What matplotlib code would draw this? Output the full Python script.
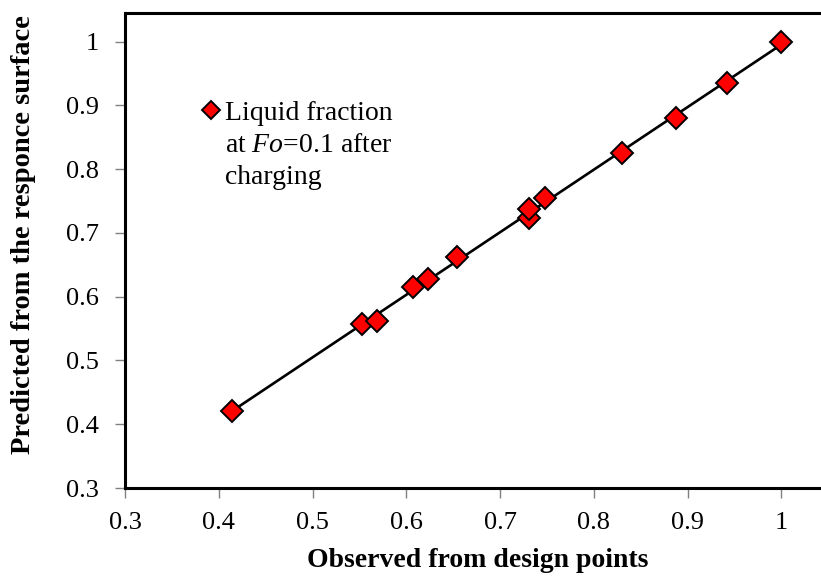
import numpy as np
import matplotlib
matplotlib.use('Agg')
import matplotlib.pyplot as plt
from matplotlib.lines import Line2D

plt.rcParams['font.family'] = 'Liberation Serif'
plt.rcParams['mathtext.fontset'] = 'custom'
plt.rcParams['mathtext.rm'] = 'Liberation Serif'
plt.rcParams['mathtext.it'] = 'Liberation Serif:italic'

# design points: observed vs predicted liquid fraction
observed = [0.414, 0.553, 0.569, 0.607, 0.623, 0.654, 0.731, 0.731, 0.748,
            0.830, 0.888, 0.942, 1.000]
predicted = [0.420, 0.557, 0.562, 0.615, 0.628, 0.662, 0.723, 0.738, 0.755,
             0.825, 0.881, 0.935, 1.000]

xticks = [0.3, 0.4, 0.5, 0.6, 0.7, 0.8, 0.9, 1.0]
tick_labels = ['0.3', '0.4', '0.5', '0.6', '0.7', '0.8', '0.9', '1']

fig = plt.figure(figsize=(8.21, 5.78), dpi=100)
ax = fig.add_axes([0.1523, 0.1557, 0.8477, 0.8218])

# linear trend line through the points
x = np.array(observed)
y = np.array(predicted)
k, b = np.polyfit(x, y, 1)
xl = np.array([x.min(), x.max()])
ax.plot(xl, k*xl + b, color='black', lw=1.9, zorder=2)

ax.plot(observed, predicted, linestyle='none', marker='D', markersize=11,
        markerfacecolor='#ff0000', markeredgecolor='black',
        markeredgewidth=1.4, zorder=3)

ax.set_xlim(0.3, 1.0424)
ax.set_ylim(0.3, 1.045)
ax.set_xticks(xticks)
ax.set_xticklabels(tick_labels)
ax.set_yticks(xticks)
ax.set_yticklabels(tick_labels)
ax.tick_params(direction='out', length=7, width=1, color='#808080',
               labelsize=19)
ax.tick_params(axis='x', pad=10)
ax.tick_params(axis='y', pad=12)

for s in ['left', 'bottom', 'top']:
    ax.spines[s].set_linewidth(2.2)
    ax.spines[s].set_color('black')
ax.spines['right'].set_visible(False)

ax.set_xlabel('Observed from design points', fontsize=20,
              fontweight='bold')
ax.set_ylabel('Predicted from the responce surface', fontsize=20.5,
              fontweight='bold')
ax.xaxis.set_label_coords(0.507, -0.126)
ax.yaxis.set_label_coords(-0.128, 0.533)

h = Line2D([], [], linestyle='none', marker='D', markersize=9,
           markerfacecolor='#ff0000', markeredgecolor='black',
           markeredgewidth=1.4)
leg = ax.legend([h], ['Liquid fraction'], loc='upper left',
                bbox_to_anchor=(0.092, 0.84), frameon=False, fontsize=20,
                handlelength=0.8, handletextpad=0.1, borderaxespad=0)
fig.canvas.draw()
lt = leg.get_texts()[0]
ax.annotate('at $Fo$=0.1 after\ncharging', xy=(0, 0), xycoords=lt,
            xytext=(0, -5), textcoords='offset points', ha='left', va='top',
            fontsize=20, linespacing=1.4)

plt.savefig('out.png', dpi=100)
